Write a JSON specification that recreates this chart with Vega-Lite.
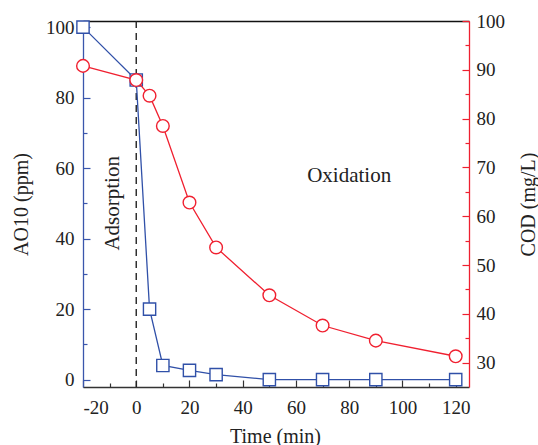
{
  "$schema": "https://vega.github.io/schema/vega-lite/v6.json",
  "width": 386,
  "height": 366,
  "autosize": "none",
  "padding": {"left": 83, "top": 21, "right": 69, "bottom": 58},
  "background": "white",
  "config": {
    "view": {"stroke": null},
    "font": "Liberation Serif",
    "axis": {
      "labelFont": "Liberation Serif",
      "titleFont": "Liberation Serif",
      "labelFontSize": 19,
      "titleFontSize": 20,
      "titleFontWeight": "normal",
      "labelColor": "#222",
      "titleColor": "#222",
      "grid": false,
      "domainWidth": 1.3,
      "tickWidth": 1.2
    }
  },
  "datasets": {
    "main": [
      {"t": -20, "ao10": 100, "cod": 90.8},
      {"t": 0, "ao10": 85, "cod": 87.9},
      {"t": 5, "ao10": 20, "cod": 84.7},
      {"t": 10, "ao10": 4, "cod": 78.5},
      {"t": 20, "ao10": 2.6, "cod": 62.8},
      {"t": 30, "ao10": 1.4, "cod": 53.6},
      {"t": 50, "ao10": 0, "cod": 43.8},
      {"t": 70, "ao10": 0, "cod": 37.6},
      {"t": 90, "ao10": 0, "cod": 34.5},
      {"t": 120, "ao10": 0, "cod": 31.3}
    ]
  },
  "resolve": {"scale": {"y": "independent"}, "axis": {"x": "independent"}},
  "layer": [
    {
      "data": {"values": [{"x": 0}]},
      "mark": {"type": "rule", "color": "#222", "strokeDash": [7, 5], "strokeWidth": 1.4},
      "encoding": {
        "x": {
          "field": "x", "type": "quantitative",
          "scale": {"domain": [-20, 125], "nice": false, "zero": false},
          "axis": {"orient": "top", "labels": false, "ticks": false, "title": null, "domainColor": "#111"}
        }
      }
    },
    {
      "data": {"name": "main"},
      "encoding": {
        "x": {
          "field": "t", "type": "quantitative",
          "scale": {"domain": [-20, 125], "nice": false, "zero": false},
          "axis": {
            "orient": "bottom",
            "title": "Time (min)",
            "values": [-20, -10, 0, 10, 20, 30, 40, 50, 60, 70, 80, 90, 100, 110, 120],
            "labelExpr": "datum.value % 20 === 0 ? (datum.value < 0 ? '-' + abs(datum.value) : '' + datum.value) : ''",
            "domainColor": "#333",
            "tickColor": "#333",
            "tickSize": {"condition": {"test": "datum.value % 20 === 0", "value": -7}, "value": -4},
            "labelPadding": 18,
            "titleX": 192,
            "titleY": 55,
            "titleBaseline": "alphabetic"
          }
        },
        "y": {
          "field": "ao10", "type": "quantitative",
          "scale": {"domain": [-2.1, 101.73], "nice": false, "zero": false},
          "axis": {
            "orient": "left",
            "title": "AO10 (ppm)",
            "values": [0, 10, 20, 30, 40, 50, 60, 70, 80, 90, 100],
            "labelExpr": "datum.value % 20 === 0 ? datum.label : ''",
            "domainColor": "#3a56ac",
            "tickColor": "#3a56ac",
            "tickSize": {"condition": {"test": "datum.value % 20 === 0", "value": -7}, "value": -4},
            "labelPadding": 16,
            "titleX": -56,
            "titleY": 183,
            "titleAngle": 270,
            "titleBaseline": "alphabetic",
            "titleAlign": "center"
          }
        }
      },
      "layer": [
        {"mark": {"type": "line", "color": "#3050a8", "strokeWidth": 1.3}},
        {"mark": {"type": "point", "shape": "square", "size": 150, "filled": true, "fill": "white", "stroke": "#3050a8", "strokeWidth": 1.4, "opacity": 1}},
        {
          "data": {"values": [{"x": -6.5, "y": 50, "label": "Adsorption"}]},
          "mark": {"type": "text", "angle": 270, "align": "center", "baseline": "alphabetic", "font": "Liberation Serif", "fontSize": 21, "color": "#222"},
          "encoding": {
            "x": {"field": "x", "type": "quantitative"},
            "y": {"field": "y", "type": "quantitative"},
            "text": {"field": "label"}
          }
        },
        {
          "data": {"values": [{"x": 80, "y": 56, "label": "Oxidation"}]},
          "mark": {"type": "text", "align": "center", "baseline": "alphabetic", "font": "Liberation Serif", "fontSize": 21, "color": "#222"},
          "encoding": {
            "x": {"field": "x", "type": "quantitative"},
            "y": {"field": "y", "type": "quantitative"},
            "text": {"field": "label"}
          }
        }
      ]
    },
    {
      "data": {"name": "main"},
      "encoding": {
        "x": {"field": "t", "type": "quantitative", "scale": {"domain": [-20, 125], "nice": false, "zero": false}, "axis": null},
        "y": {
          "field": "cod", "type": "quantitative",
          "scale": {"domain": [25, 100], "nice": false, "zero": false},
          "axis": {
            "orient": "right",
            "title": "COD (mg/L)",
            "values": [30, 35, 40, 45, 50, 55, 60, 65, 70, 75, 80, 85, 90, 95, 100],
            "labelExpr": "datum.value % 10 === 0 ? datum.label : ''",
            "domainColor": "#ee2030",
            "tickColor": "#ee2030",
            "tickSize": {"condition": {"test": "datum.value % 10 === 0", "value": -7}, "value": -4},
            "labelPadding": 14,
            "titleX": 65,
            "titleY": 183,
            "titleAngle": 270,
            "titleBaseline": "alphabetic",
            "titleAlign": "center"
          }
        }
      },
      "layer": [
        {"mark": {"type": "line", "color": "#f02030", "strokeWidth": 1.3}},
        {"mark": {"type": "point", "shape": "circle", "size": 160, "filled": true, "fill": "white", "stroke": "#f02030", "strokeWidth": 1.4, "opacity": 1}}
      ]
    }
  ]
}
